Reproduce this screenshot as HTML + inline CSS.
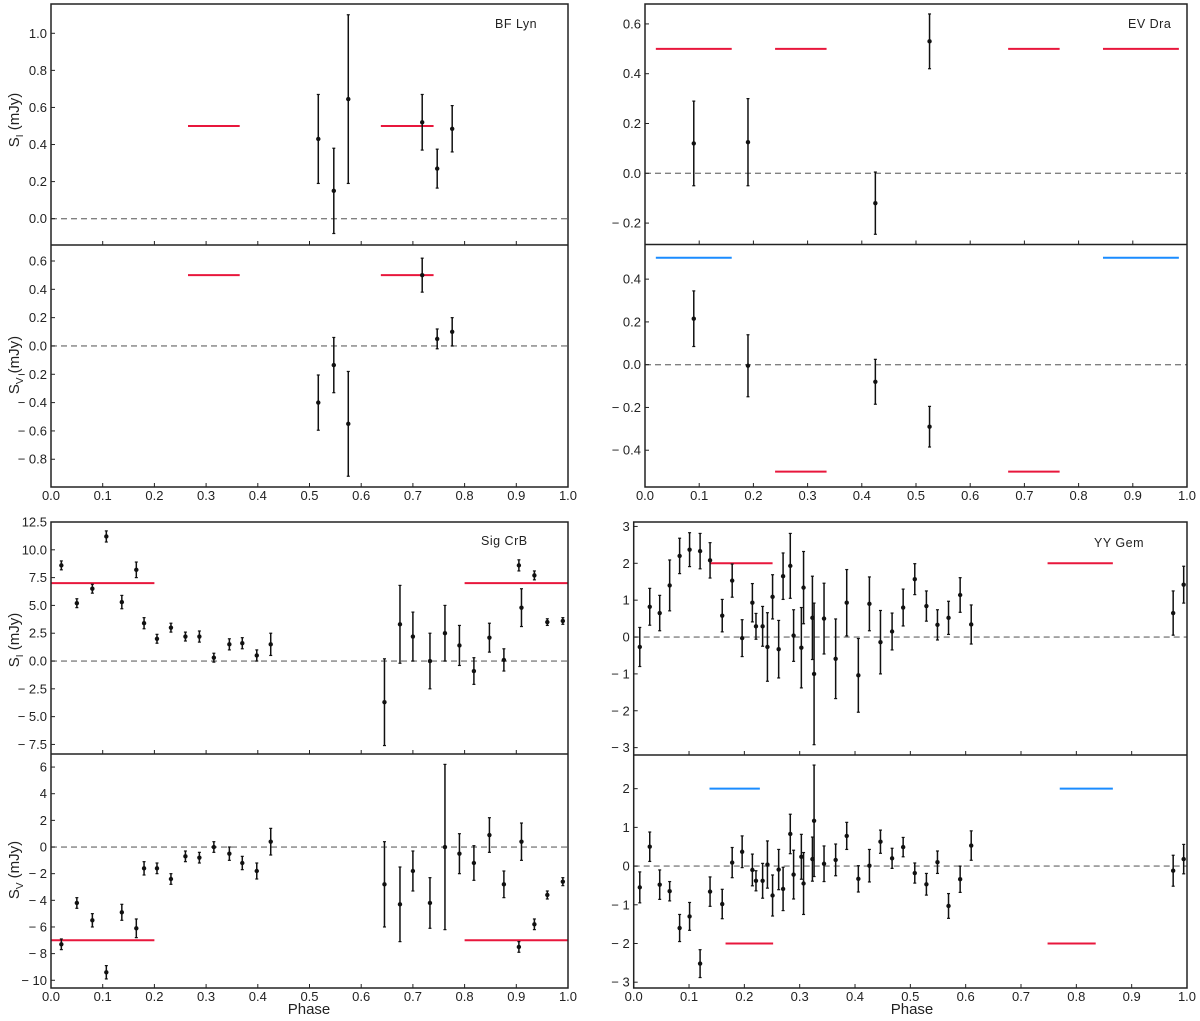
<!DOCTYPE html>
<html><head><meta charset="utf-8">
<style>
html,body{margin:0;padding:0;background:#fff;}
svg{display:block;font-family:"Liberation Sans",Arial,sans-serif;}
</style></head>
<body>
<svg id="chart" width="1200" height="1021" viewBox="0 0 1200 1021" xmlns="http://www.w3.org/2000/svg"></svg>
<script>
// ===== DATA =====
const xTicks = [0,0.1,0.2,0.3,0.4,0.5,0.6,0.7,0.8,0.9,1.0];
const xTickLabels = ["0.0","0.1","0.2","0.3","0.4","0.5","0.6","0.7","0.8","0.9","1.0"];

// BF Lyn
const bfPhase = [0.517,0.547,0.575,0.718,0.747,0.776];
const bfSI = [0.43,0.15,0.645,0.52,0.27,0.485];
const bfSIerr = [0.24,0.23,0.455,0.15,0.105,0.125];
const bfSV = [-0.40,-0.135,-0.55,0.50,0.05,0.10];
const bfSVerr = [0.195,0.195,0.37,0.12,0.07,0.10];
const bfSIBars = [[0.265,0.365,0.5],[0.638,0.74,0.5]];
const bfSVBars = [[0.265,0.365,0.5],[0.638,0.74,0.5]];
const bfSITicks = [1.0,0.8,0.6,0.4,0.2,0.0];
const bfSVTicks = [0.6,0.4,0.2,0.0,-0.2,-0.4,-0.6,-0.8];

// EV Dra
const evPhase = [0.09,0.19,0.425,0.525];
const evSI = [0.12,0.125,-0.12,0.53];
const evSIerr = [0.17,0.175,0.125,0.11];
const evSV = [0.215,-0.005,-0.08,-0.29];
const evSVerr = [0.13,0.145,0.105,0.095];
const evSIBars = [[0.02,0.16,0.5],[0.24,0.335,0.5],[0.67,0.765,0.5],[0.845,0.985,0.5]];
const evSVBlue = [[0.02,0.16,0.5],[0.845,0.985,0.5]];
const evSVRed = [[0.24,0.335,-0.5],[0.67,0.765,-0.5]];
const evSITicks = [0.6,0.4,0.2,0.0,-0.2];
const evSVTicks = [0.4,0.2,0.0,-0.2,-0.4];

// Sig CrB
const sgPhase = [0.02,0.05,0.08,0.107,0.137,0.165,0.18,0.205,0.232,0.26,0.287,0.315,0.345,0.37,0.398,0.425,0.645,0.675,0.70,0.733,0.762,0.79,0.818,0.848,0.876,0.905,0.91,0.935,0.96,0.99];
const sgSI = [8.6,5.2,6.5,11.2,5.3,8.2,3.4,2.0,3.0,2.2,2.2,0.3,1.5,1.6,0.5,1.5,-3.7,3.3,2.2,0.0,2.5,1.4,-0.9,2.1,0.1,8.6,4.8,7.7,3.5,3.6];
const sgSIerr = [0.4,0.4,0.4,0.5,0.6,0.7,0.5,0.4,0.4,0.4,0.5,0.4,0.5,0.5,0.5,1.0,3.9,3.5,2.2,2.5,2.5,1.8,1.2,1.3,1.0,0.5,1.7,0.4,0.3,0.3];
const sgSV = [-7.3,-4.2,-5.5,-9.4,-4.9,-6.1,-1.6,-1.6,-2.4,-0.7,-0.8,0.0,-0.5,-1.2,-1.8,0.4,-2.8,-4.3,-1.8,-4.2,0.0,-0.5,-1.2,0.9,-2.8,-7.5,0.4,-5.8,-3.6,-2.6];
const sgSVerr = [0.4,0.4,0.5,0.5,0.6,0.7,0.5,0.4,0.4,0.4,0.4,0.4,0.5,0.5,0.6,1.0,3.2,2.8,1.5,1.9,6.2,1.5,1.3,1.3,1.0,0.4,1.4,0.4,0.3,0.3];
const sgSIBars = [[0.0,0.2,7.0],[0.8,1.0,7.0]];
const sgSVBars = [[0.0,0.2,-7.0],[0.8,1.0,-7.0]];
const sgSITicks = [12.5,10.0,7.5,5.0,2.5,0.0,-2.5,-5.0,-7.5];
const sgSITickLabels = ["12.5","10.0","7.5","5.0","2.5","0.0","− 2.5","− 5.0","− 7.5"];
const sgSVTicks = [6,4,2,0,-2,-4,-6,-8,-10];

// YY Gem
const yyPhase = [0.011,0.029,0.047,0.065,0.083,0.101,0.12,0.138,0.160,0.178,0.196,0.2145,0.221,0.233,0.2417,0.251,0.262,0.270,0.283,0.289,0.303,0.307,0.323,0.326,0.344,0.365,0.385,0.406,0.426,0.446,0.467,0.487,0.508,0.529,0.549,0.569,0.590,0.610,0.975,0.994];
const yySI = [-0.27,0.82,0.65,1.4,2.2,2.37,2.33,2.08,0.58,1.53,-0.03,0.93,0.29,0.29,-0.27,1.09,-0.33,1.65,1.93,0.04,-0.29,1.34,0.52,-1.0,0.5,-0.59,0.93,-1.04,0.9,-0.14,0.15,0.8,1.57,0.84,0.33,0.52,1.14,0.34,0.65,1.42];
const yySIerr = [0.53,0.5,0.48,0.69,0.48,0.46,0.48,0.48,0.44,0.45,0.5,0.52,0.35,0.54,0.93,0.6,0.78,0.63,0.88,0.7,1.09,0.98,1.13,1.92,0.96,1.08,0.9,1.0,0.73,0.86,0.5,0.5,0.42,0.41,0.41,0.45,0.47,0.53,0.6,0.5];
const yySV = [-0.55,0.5,-0.48,-0.65,-1.6,-1.3,-2.52,-0.66,-0.98,0.09,0.37,-0.1,-0.38,-0.38,0.04,-0.76,-0.09,-0.59,0.83,-0.22,0.24,-0.45,0.18,1.17,0.06,0.16,0.78,-0.33,0.01,0.63,0.2,0.49,-0.18,-0.47,0.1,-1.03,-0.34,0.53,-0.12,0.18];
const yySVerr = [0.4,0.38,0.38,0.25,0.35,0.36,0.36,0.38,0.38,0.39,0.41,0.41,0.26,0.45,0.61,0.53,0.52,0.56,0.51,0.63,0.58,0.8,0.57,1.44,0.46,0.41,0.35,0.34,0.42,0.3,0.26,0.25,0.26,0.28,0.29,0.32,0.34,0.38,0.4,0.38];
const yySIBars = [[0.137,0.251,2.0],[0.748,0.866,2.0]];
const yySVBlue = [[0.137,0.228,2.0],[0.77,0.866,2.0]];
const yySVRed = [[0.166,0.252,-2.0],[0.748,0.835,-2.0]];
const yySITicks = [3,2,1,0,-1,-2,-3];
const yySVTicks = [2,1,0,-1,-2,-3];

// ===== RENDER =====
const NS = "http://www.w3.org/2000/svg";
const svg = document.getElementById("chart");
function mk(tag, attrs, parent){
  const e = document.createElementNS(NS, tag);
  for (const k in attrs) e.setAttribute(k, attrs[k]);
  (parent||svg).appendChild(e);
  return e;
}
function fmt(v){
  if (v < 0) return "− " + Math.abs(v).toFixed(1);
  return v.toFixed(1);
}
function fmtInt(v){ return v < 0 ? "− " + Math.abs(v) : String(v); }

function makeAxes(x0, x1, y0, y1, vTop, vBot){
  return {
    x: p => x0 + p*(x1-x0),
    y: v => y0 + (vTop - v)/(vTop - vBot)*(y1-y0),
    x0, x1, y0, y1
  };
}

function subplot(name, ax, ticks, tickLabels, showXLabels){
  const g = mk("g", {});
  
  
  const z = mk("line", {x1:ax.x0, x2:ax.x1, y1:ax.y(0), y2:ax.y(0), stroke:"#808080", "stroke-width":1.4, "stroke-dasharray":"6,4"}, g);
  
  
  ticks.forEach((t,i)=>{
    const yy = ax.y(t);
    const tk = mk("line", {x1:ax.x0, x2:ax.x0+4, y1:yy, y2:yy, stroke:"#222", "stroke-width":1}, g);
    
    
    const tl = mk("text", {x:ax.x0-4, y:yy+4.5, "text-anchor":"end", "font-size":13, fill:"#222"}, g);
    tl.textContent = tickLabels[i];
    
    
  });
  xTicks.forEach((t,i)=>{
    const xx = ax.x(t);
    if (t>0 && t<1){
      const tk = mk("line", {x1:xx, x2:xx, y1:ax.y1, y2:ax.y1-4, stroke:"#222", "stroke-width":1}, g);
      
      
    }
    if (showXLabels){
      const tl = mk("text", {x:xx, y:ax.y1+13, "text-anchor":"middle", "font-size":13, fill:"#222"}, g);
      tl.textContent = xTickLabels[i];
      
      
    }
  });
  return g;
}

function frame(name, x0, x1, y0, y1){
  const r = mk("rect", {x:x0, y:y0, width:x1-x0, height:y1-y0, fill:"none", stroke:"#222", "stroke-width":1.5});
  
  
}
function divider(x0, x1, y){
  const l = mk("line", {x1:x0, x2:x1, y1:y, y2:y, stroke:"#222", "stroke-width":1.5});
  
  
}

function segs(ax, arr, color, name){
  arr.forEach(s=>{
    const l = mk("line", {x1:ax.x(s[0]), x2:ax.x(s[1]), y1:ax.y(s[2]), y2:ax.y(s[2]), stroke:color, "stroke-width":2});
    
    
  });
}

function points(ax, ph, val, err, name){
  ph.forEach((p,i)=>{
    const g = mk("g", {});
    
    
    const cx = ax.x(p), yt = ax.y(val[i]+err[i]), yb = ax.y(val[i]-err[i]);
    mk("line", {x1:cx, x2:cx, y1:yt, y2:yb, stroke:"#111", "stroke-width":1.5}, g);
    mk("line", {x1:cx-1.5, x2:cx+1.5, y1:yt, y2:yt, stroke:"#111", "stroke-width":1.2}, g);
    mk("line", {x1:cx-1.5, x2:cx+1.5, y1:yb, y2:yb, stroke:"#111", "stroke-width":1.2}, g);
    mk("circle", {cx:cx, cy:ax.y(val[i]), r:2.2, fill:"#111"}, g);
  });
}

function title(x, y, txt, name){
  const t = mk("text", {x:x, y:y, "font-size":12.5, fill:"#222", "letter-spacing":"0.5"});
  t.textContent = txt;
  
  
}
function ytitle(x, y, sub, name){
  const t = mk("text", {x:0, y:0, "font-size":15, fill:"#222", transform:`translate(${x},${y}) rotate(-90)`, "text-anchor":"middle"});
  
  
  const a = mk("tspan", {}, t); a.textContent = "S";
  const b = mk("tspan", {"font-size":10, dy:4}, t); b.textContent = sub;
  const c = mk("tspan", {dy:-4}, t); c.textContent = " (mJy)";
}
function xtitle(x, y, name){
  const t = mk("text", {x:x, y:y, "font-size":15, fill:"#222", "text-anchor":"middle"});
  t.textContent = "Phase";
  
  
}

const RED = "#e8173c", BLUE = "#1a8cff";

// Panel 1: BF Lyn
{
  const a1 = makeAxes(51, 568, 4, 245, 1.158, -0.142);
  const a2 = makeAxes(51, 568, 245, 487, 0.713, -0.996);
  subplot("bf-lyn-si-axes", a1, bfSITicks, bfSITicks.map(fmt), false);
  subplot("bf-lyn-sv-axes", a2, bfSVTicks, bfSVTicks.map(fmt), true);
  segs(a1, bfSIBars, RED, "bf-lyn-si-red-bar");
  segs(a2, bfSVBars, RED, "bf-lyn-sv-red-bar");
  points(a1, bfPhase, bfSI, bfSIerr, "bf-lyn-si-point");
  points(a2, bfPhase, bfSV, bfSVerr, "bf-lyn-sv-point");
  frame("bf-lyn-frame", 51, 568, 4, 487); divider(51, 568, 245);
  title(495, 28, "BF Lyn", "bf-lyn-label");
  ytitle(19, 120, "I", "bf-lyn-si-y-title");
  ytitle(19, 365, "V", "bf-lyn-sv-y-title");
}
// Panel 2: EV Dra
{
  const a1 = makeAxes(645, 1187, 4, 244.5, 0.680, -0.286);
  const a2 = makeAxes(645, 1187, 244.5, 487, 0.562, -0.572);
  subplot("ev-dra-si-axes", a1, evSITicks, evSITicks.map(fmt), false);
  subplot("ev-dra-sv-axes", a2, evSVTicks, evSVTicks.map(fmt), true);
  segs(a1, evSIBars, RED, "ev-dra-si-red-bar");
  segs(a2, evSVBlue, BLUE, "ev-dra-sv-blue-bar");
  segs(a2, evSVRed, RED, "ev-dra-sv-red-bar");
  points(a1, evPhase, evSI, evSIerr, "ev-dra-si-point");
  points(a2, evPhase, evSV, evSVerr, "ev-dra-sv-point");
  frame("ev-dra-frame", 645, 1187, 4, 487); divider(645, 1187, 244.5);
  title(1128, 28, "EV Dra", "ev-dra-label");
}
// Panel 3: Sig CrB
{
  const a1 = makeAxes(51, 568, 522, 754, 12.5, -8.36);
  const a2 = makeAxes(51, 568, 754, 988, 6.98, -10.58);
  subplot("sig-crb-si-axes", a1, sgSITicks, sgSITickLabels, false);
  subplot("sig-crb-sv-axes", a2, sgSVTicks, sgSVTicks.map(fmtInt), true);
  segs(a1, sgSIBars, RED, "sig-crb-si-red-bar");
  segs(a2, sgSVBars, RED, "sig-crb-sv-red-bar");
  points(a1, sgPhase, sgSI, sgSIerr, "sig-crb-si-point");
  points(a2, sgPhase, sgSV, sgSVerr, "sig-crb-sv-point");
  frame("sig-crb-frame", 51, 568, 522, 988); divider(51, 568, 754);
  title(481, 545, "Sig CrB", "sig-crb-label");
  ytitle(19, 640, "I", "sig-crb-si-y-title");
  ytitle(19, 870, "V", "sig-crb-sv-y-title");
  xtitle(309, 1014, "left-x-axis-title");
}
// Panel 4: YY Gem
{
  const a1 = makeAxes(633.7, 1187, 522, 755, 3.12, -3.2);
  const a2 = makeAxes(633.7, 1187, 755, 988, 2.87, -3.15);
  subplot("yy-gem-si-axes", a1, yySITicks, yySITicks.map(fmtInt), false);
  subplot("yy-gem-sv-axes", a2, yySVTicks, yySVTicks.map(fmtInt), true);
  segs(a1, yySIBars, RED, "yy-gem-si-red-bar");
  segs(a2, yySVBlue, BLUE, "yy-gem-sv-blue-bar");
  segs(a2, yySVRed, RED, "yy-gem-sv-red-bar");
  points(a1, yyPhase, yySI, yySIerr, "yy-gem-si-point");
  points(a2, yyPhase, yySV, yySVerr, "yy-gem-sv-point");
  frame("yy-gem-frame", 633.7, 1187, 522, 988); divider(633.7, 1187, 755);
  title(1094, 547, "YY Gem", "yy-gem-label");
  xtitle(912, 1014, "right-x-axis-title");
}
</script>
</body></html>
